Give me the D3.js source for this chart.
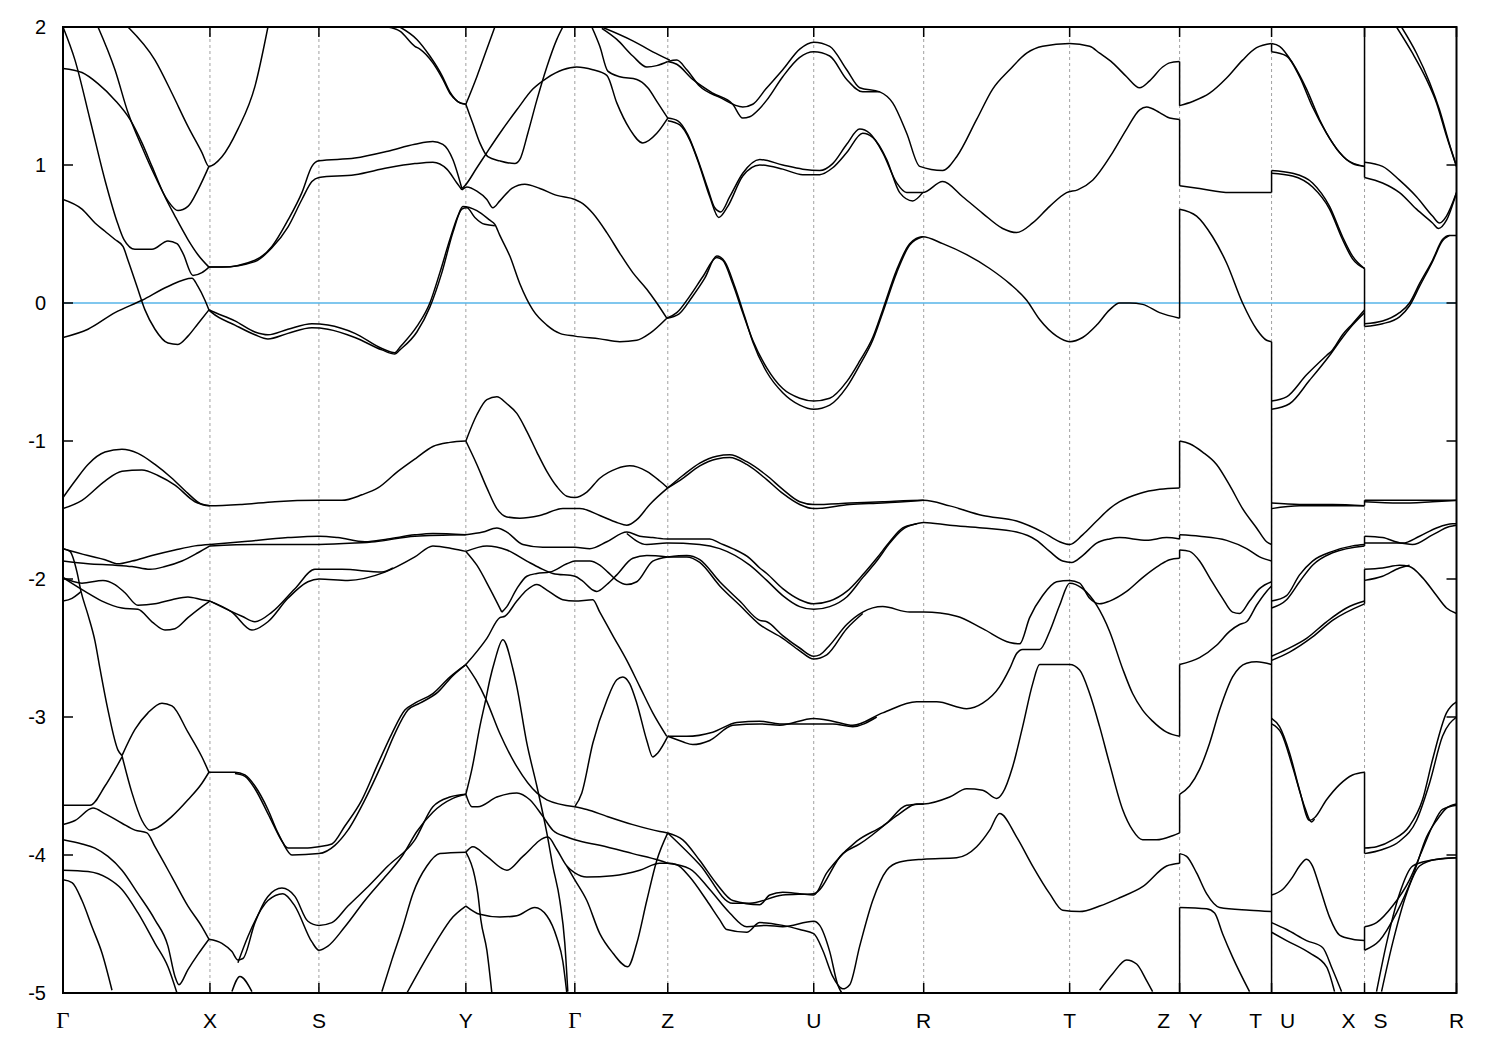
<!DOCTYPE html>
<html><head><meta charset="utf-8">
<script src="https://cdn.jsdelivr.net/npm/d3@7/dist/d3.min.js"></script>
<style>body{margin:0;background:#fff}svg{display:block}</style>
</head><body><svg id="c" width="1500" height="1050"></svg>
<script>
// high-symmetry points (path coordinate) and labels
const kPoints = [0, 1.47, 2.56, 4.03, 5.12, 6.05, 7.51, 8.61, 10.07, 11.17, 12.09, 13.02, 13.94];
const kLabels = ["Γ","X","S","Y","Γ","Z","U","R","T","Z|Y","T|U","X|S","R"];
const yTicks = [2, 1, 0, -1, -2, -3, -4, -5];
const fermiLevel = 0;

// Γ - X - S - Y
const bandsGXSY = [
 [[0,2.0],[0.12,1.76],[0.27,1.33],[0.42,0.89],[0.55,0.57],[0.61,0.46],[0.72,0.39],[0.89,0.39],[1.05,0.45],[1.14,0.43],[1.20,0.36],[1.30,0.20],[1.39,0.22],[1.46,0.26]],
 [[0,0.75],[0.19,0.68],[0.32,0.58],[0.42,0.52],[0.52,0.46],[0.60,0.41],[0.65,0.31],[0.74,0.12],[0.82,-0.05],[0.92,-0.19],[1.05,-0.29],[1.15,-0.30],[1.25,-0.24],[1.35,-0.15],[1.46,-0.05]],
 [[0,-0.25],[0.25,-0.19],[0.52,-0.07],[0.79,0.02],[1.05,0.12],[1.29,0.18],[1.35,0.12],[1.42,0.02],[1.46,-0.05]],
 [[0,1.70],[0.19,1.67],[0.35,1.59],[0.52,1.47],[0.67,1.33],[0.79,1.16],[0.89,0.99],[1.02,0.77],[1.12,0.63],[1.25,0.46],[1.35,0.35],[1.46,0.26]],
 [[0.35,2.0],[0.52,1.69],[0.65,1.38],[0.79,1.13],[0.92,0.92],[1.05,0.74],[1.15,0.67],[1.25,0.70],[1.35,0.82],[1.46,0.99]],
 [[0.65,2.0],[0.92,1.76],[1.09,1.52],[1.25,1.28],[1.39,1.09],[1.46,0.99],[1.59,1.06],[1.75,1.26],[1.92,1.57],[2.05,2.0]],
 [[1.46,0.26],[1.59,0.26],[1.92,0.31],[2.09,0.41],[2.25,0.60],[2.39,0.80],[2.49,0.99],[2.56,1.03],[2.92,1.05],[3.25,1.10],[3.52,1.15],[3.70,1.17],[3.80,1.15],[3.90,1.04],[3.99,0.83]],
 [[1.46,0.26],[1.59,0.26],[1.92,0.30],[2.09,0.40],[2.25,0.55],[2.39,0.75],[2.49,0.88],[2.56,0.91],[2.92,0.93],[3.25,0.98],[3.52,1.01],[3.70,1.02],[3.84,0.97],[3.94,0.87],[3.99,0.82]],
 [[3.25,2.0],[3.37,1.97],[3.52,1.86],[3.57,1.84],[3.70,1.74],[3.80,1.62],[3.87,1.52],[3.95,1.46],[4.03,1.44]],
 [[3.37,2.0],[3.54,1.91],[3.67,1.79],[3.79,1.65],[3.87,1.53],[3.97,1.45],[4.03,1.44]],
 [[1.46,-0.05],[1.49,-0.06],[1.72,-0.13],[1.92,-0.21],[2.05,-0.23],[2.25,-0.19],[2.49,-0.15],[2.65,-0.16],[2.92,-0.22],[3.19,-0.33],[3.32,-0.36],[3.37,-0.32],[3.54,-0.17],[3.67,0.0],[3.77,0.22],[3.87,0.46],[3.95,0.63],[4.00,0.70],[4.14,0.67],[4.27,0.60],[4.32,0.57],[4.37,0.49],[4.47,0.34],[4.57,0.14],[4.70,-0.05],[4.84,-0.16],[4.97,-0.22],[5.12,-0.24],[5.37,-0.26],[5.57,-0.28],[5.74,-0.27],[5.87,-0.22],[6.04,-0.11]],
 [[1.46,-0.05],[1.49,-0.07],[1.72,-0.16],[1.92,-0.23],[2.05,-0.26],[2.25,-0.22],[2.49,-0.18],[2.65,-0.19],[2.92,-0.25],[3.19,-0.34],[3.32,-0.37],[3.37,-0.34],[3.54,-0.21],[3.67,-0.03],[3.79,0.22],[3.90,0.51],[3.99,0.68],[4.04,0.69],[4.12,0.62],[4.22,0.57],[4.32,0.56]],
 [[0,-1.41],[0.12,-1.29],[0.25,-1.17],[0.42,-1.08],[0.59,-1.06],[0.75,-1.09],[0.92,-1.17],[1.09,-1.27],[1.25,-1.38],[1.39,-1.46],[1.47,-1.47],[1.79,-1.46],[2.12,-1.44],[2.56,-1.43],[2.79,-1.43],[2.99,-1.39],[3.15,-1.34],[3.35,-1.22],[3.54,-1.12],[3.70,-1.04],[3.87,-1.01],[4.03,-1.0]],
 [[0,-1.49],[0.19,-1.43],[0.42,-1.29],[0.59,-1.22],[0.79,-1.21],[0.95,-1.25],[1.12,-1.32],[1.32,-1.44],[1.47,-1.47]],
 [[0,-1.78],[0.25,-1.83],[0.42,-1.86],[0.55,-1.89],[0.69,-1.87],[0.89,-1.83],[1.12,-1.79],[1.32,-1.76],[1.47,-1.75]],
 [[0,-1.87],[0.25,-1.89],[0.52,-1.90],[0.69,-1.91],[0.87,-1.93],[1.02,-1.91],[1.19,-1.87],[1.35,-1.81],[1.47,-1.76]],
 [[1.47,-1.75],[1.79,-1.73],[2.25,-1.70],[2.56,-1.69],[2.75,-1.70],[3.02,-1.73],[3.25,-1.71],[3.52,-1.68],[3.70,-1.67],[4.03,-1.68]],
 [[1.47,-1.76],[1.92,-1.75],[2.56,-1.75],[2.92,-1.74],[3.12,-1.73],[3.52,-1.69],[4.03,-1.68]],
 [[1.47,-2.16],[1.69,-2.24],[1.89,-2.37],[2.05,-2.31],[2.25,-2.14],[2.45,-2.02],[2.56,-2.0],[2.85,-2.01],[3.22,-1.95],[3.52,-1.84],[3.70,-1.76],[3.90,-1.78],[4.03,-1.80]],
 [[1.47,-2.16],[1.79,-2.27],[1.92,-2.31],[2.09,-2.24],[2.32,-2.07],[2.52,-1.93],[2.79,-1.93],[3.19,-1.95],[3.30,-1.92]],
 [[0,-1.99],[0.19,-2.03],[0.40,-2.01],[0.52,-2.04],[0.62,-2.10],[0.75,-2.19],[0.92,-2.18],[1.09,-2.15],[1.25,-2.13],[1.39,-2.15],[1.47,-2.16]],
 [[0,-1.99],[0.22,-2.09],[0.39,-2.16],[0.59,-2.21],[0.75,-2.22],[0.89,-2.31],[1.02,-2.37],[1.12,-2.36],[1.25,-2.28],[1.39,-2.20],[1.47,-2.16]],
 [[0,-1.78],[0.07,-1.80],[0.14,-1.95],[0.18,-2.09],[0.25,-2.26],[0.32,-2.45],[0.37,-2.65],[0.45,-2.95],[0.55,-3.24],[0.59,-3.28]],
 [[0,-2.16],[0.09,-2.14],[0.15,-2.11],[0.18,-2.09]],
 [[0.59,-3.28],[0.72,-3.09],[0.85,-2.97],[0.99,-2.90],[1.09,-2.92],[1.25,-3.11],[1.39,-3.29],[1.46,-3.40]],
 [[0,-3.64],[0.27,-3.64],[0.42,-3.50],[0.52,-3.38],[0.59,-3.29]],
 [[0.59,-3.28],[0.69,-3.55],[0.79,-3.75],[0.87,-3.82],[0.92,-3.81],[1.09,-3.72],[1.25,-3.60],[1.39,-3.48],[1.46,-3.40]],
 [[0,-3.78],[0.12,-3.75],[0.30,-3.66],[0.42,-3.70],[0.59,-3.77],[0.72,-3.82],[0.84,-3.84],[0.92,-3.94],[1.09,-4.16],[1.25,-4.37],[1.39,-4.52],[1.46,-4.61]],
 [[0,-3.89],[0.19,-3.92],[0.32,-3.95],[0.45,-4.01],[0.59,-4.11],[0.75,-4.28],[0.92,-4.47],[1.05,-4.66],[1.12,-4.88],[1.16,-4.94],[1.25,-4.83],[1.35,-4.72],[1.46,-4.61]],
 [[0,-4.11],[0.25,-4.12],[0.45,-4.17],[0.59,-4.25],[0.75,-4.42],[0.92,-4.64],[1.05,-4.81],[1.14,-5.0]],
 [[0,-4.18],[0.09,-4.20],[0.19,-4.33],[0.29,-4.52],[0.39,-4.71],[0.49,-4.98]],
 [[1.46,-3.40],[1.72,-3.40],[1.82,-3.42],[1.92,-3.50],[2.05,-3.67],[2.15,-3.84],[2.25,-3.95],[2.42,-3.95],[2.56,-3.94],[2.69,-3.92],[2.82,-3.79],[2.99,-3.60],[3.15,-3.34],[3.29,-3.12],[3.42,-2.95],[3.52,-2.90],[3.70,-2.83],[3.87,-2.71],[4.03,-2.62]],
 [[1.72,-3.41],[1.82,-3.43],[1.92,-3.52],[2.05,-3.70],[2.19,-3.90],[2.29,-4.0],[2.56,-3.99],[2.72,-3.93],[2.85,-3.82],[3.02,-3.60],[3.19,-3.34],[3.32,-3.12],[3.45,-2.95],[3.57,-2.90],[3.75,-2.82],[3.90,-2.70],[4.03,-2.62]],
 [[1.46,-4.61],[1.59,-4.64],[1.69,-4.70],[1.75,-4.76],[1.80,-4.75],[1.92,-4.49],[2.05,-4.30],[2.19,-4.24],[2.32,-4.30],[2.45,-4.48],[2.56,-4.51],[2.69,-4.49],[2.85,-4.37],[3.05,-4.23],[3.25,-4.08],[3.52,-3.89],[3.70,-3.65],[3.87,-3.58],[4.03,-3.56]],
 [[1.75,-4.78],[1.85,-4.59],[2.05,-4.33],[2.20,-4.28],[2.32,-4.37],[2.49,-4.63],[2.56,-4.69],[2.65,-4.66],[2.82,-4.52],[3.02,-4.33],[3.22,-4.16],[3.40,-4.0],[3.54,-3.83],[3.70,-3.69],[3.90,-3.59],[4.03,-3.56]],
 [[1.69,-4.99],[1.77,-4.88],[1.89,-4.99]],
 [[3.19,-4.99],[3.29,-4.76],[3.40,-4.52],[3.50,-4.28],[3.64,-4.08],[3.77,-3.99],[4.03,-3.98]],
 [[3.44,-5.0],[3.57,-4.83],[3.74,-4.62],[3.90,-4.45],[4.03,-4.37]]
];

// Y - Γ - Z
const bandsYGZ = [
 [[3.99,0.83],[4.02,0.85],[4.14,0.98],[4.24,1.09],[4.37,1.23],[4.54,1.40],[4.70,1.55],[4.84,1.63],[5.00,1.69],[5.14,1.71],[5.30,1.69],[5.44,1.65],[5.54,1.45],[5.67,1.26],[5.80,1.16],[5.94,1.23],[6.05,1.34]],
 [[3.99,0.82],[4.04,0.84],[4.14,0.81],[4.24,0.75],[4.30,0.69],[4.37,0.74],[4.49,0.83],[4.62,0.86],[4.77,0.83],[4.94,0.78],[5.12,0.75],[5.20,0.72],[5.30,0.65],[5.44,0.51],[5.57,0.36],[5.70,0.22],[5.84,0.10],[5.94,0.0],[6.04,-0.11]],
 [[4.03,1.44],[4.14,1.64],[4.24,1.84],[4.32,2.0]],
 [[4.03,1.44],[4.10,1.30],[4.17,1.16],[4.25,1.06],[4.37,1.03],[4.52,1.01],[4.57,1.04],[4.65,1.23],[4.74,1.47],[4.84,1.71],[4.94,1.91],[5.00,2.0]],
 [[5.29,2.0],[5.37,1.86],[5.45,1.68],[5.57,1.64],[5.74,1.62],[5.85,1.56],[5.95,1.45],[6.05,1.34]],
 [[5.39,1.99],[5.54,1.91],[5.70,1.79],[5.84,1.71],[5.94,1.72],[6.05,1.75]],
 [[5.39,2.0],[5.70,1.90],[5.90,1.82],[6.07,1.76]],
 [[4.03,-1.0],[4.14,-0.81],[4.24,-0.70],[4.34,-0.68],[4.44,-0.73],[4.54,-0.80],[4.64,-0.93],[4.74,-1.08],[4.84,-1.22],[4.94,-1.33],[5.04,-1.40],[5.12,-1.41],[5.24,-1.37],[5.37,-1.27],[5.54,-1.20],[5.67,-1.18],[5.84,-1.22],[5.97,-1.29],[6.05,-1.34]],
 [[4.03,-1.0],[4.14,-1.17],[4.24,-1.34],[4.34,-1.49],[4.44,-1.55],[4.57,-1.56],[4.77,-1.54],[5.00,-1.49],[5.17,-1.49],[5.37,-1.54],[5.54,-1.59],[5.64,-1.61],[5.74,-1.57],[5.87,-1.46],[6.05,-1.34]],
 [[4.03,-1.80],[4.14,-1.90],[4.27,-2.07],[4.39,-2.24]],
 [[4.39,-2.24],[4.44,-2.20],[4.54,-2.07],[4.64,-1.98],[4.74,-1.96],[4.87,-1.95],[5.04,-1.89],[5.12,-1.87],[5.27,-1.87],[5.37,-1.90],[5.45,-1.95],[5.54,-2.01],[5.64,-2.04],[5.74,-2.02],[5.90,-1.87],[6.05,-1.84]],
 [[4.03,-1.80],[4.24,-1.76],[4.44,-1.79],[4.64,-1.87],[4.77,-1.92],[4.90,-1.96],[5.12,-1.98],[5.19,-2.01],[5.30,-2.08],[5.34,-2.09],[5.44,-2.04],[5.54,-1.97],[5.70,-1.85],[5.84,-1.83],[6.05,-1.84]],
 [[4.03,-2.62],[4.24,-2.43],[4.37,-2.28],[4.42,-2.27],[4.54,-2.16],[4.64,-2.08],[4.74,-2.04],[4.84,-2.08],[5.00,-2.15],[5.12,-2.16],[5.30,-2.15],[5.37,-2.24],[5.50,-2.41],[5.64,-2.59],[5.77,-2.78],[5.90,-2.97],[6.04,-3.14]],
 [[4.03,-3.56],[4.09,-3.38],[4.17,-3.07],[4.23,-2.87],[4.27,-2.73],[4.32,-2.59],[4.40,-2.44],[4.50,-2.65],[4.54,-2.78],[4.64,-3.19],[4.74,-3.50],[4.84,-3.84],[4.90,-4.08],[4.97,-4.33],[5.02,-4.64],[5.05,-4.99]],
 [[4.03,-2.62],[4.13,-2.73],[4.23,-2.87],[4.37,-3.12],[4.54,-3.36],[4.74,-3.55],[4.84,-3.60],[5.12,-3.65]],
 [[5.12,-3.65],[5.19,-3.55],[5.30,-3.19],[5.44,-2.88],[5.54,-2.73],[5.60,-2.71],[5.67,-2.76],[5.74,-2.90],[5.84,-3.17],[5.90,-3.29],[5.95,-3.26],[6.05,-3.14]],
 [[4.03,-3.56],[4.09,-3.65],[4.15,-3.65],[4.34,-3.58],[4.54,-3.55],[4.67,-3.60],[4.80,-3.72],[4.90,-3.82],[5.04,-3.87],[5.12,-3.89],[5.37,-3.93],[5.70,-3.99],[5.97,-4.04],[6.05,-4.06]],
 [[5.12,-3.65],[5.24,-3.67],[5.44,-3.72],[5.70,-3.78],[5.97,-3.83],[6.05,-3.84]],
 [[5.04,-4.08],[5.12,-4.18],[5.24,-4.33],[5.37,-4.57],[5.50,-4.71],[5.65,-4.81],[5.74,-4.64],[5.84,-4.33],[5.94,-4.04],[6.05,-3.84]],
 [[4.03,-3.98],[4.12,-4.16],[4.15,-4.28],[4.18,-4.47],[4.24,-4.69],[4.29,-5.0]],
 [[4.03,-4.37],[4.17,-4.43],[4.37,-4.45],[4.54,-4.44],[4.72,-4.38],[4.84,-4.44],[4.94,-4.60],[5.00,-4.77],[5.04,-5.0]]
];

// Z - U - R - T - Z
const bandsZURTZ = [
 [[6.05,1.75],[6.14,1.76],[6.24,1.69],[6.37,1.57],[6.57,1.49],[6.80,1.42],[6.90,1.44],[7.03,1.55],[7.20,1.69],[7.37,1.84],[7.51,1.89],[7.67,1.86],[7.84,1.69],[7.97,1.56],[8.17,1.53],[8.30,1.45],[8.44,1.23],[8.57,0.99],[8.80,0.96],[8.94,1.06],[9.14,1.33],[9.30,1.55],[9.47,1.69],[9.64,1.81],[9.80,1.86],[10.07,1.88],[10.27,1.86],[10.37,1.81],[10.50,1.74],[10.64,1.64],[10.77,1.56],[10.87,1.61],[11.00,1.71],[11.07,1.74],[11.17,1.75]],
 [[6.05,1.75],[6.14,1.73],[6.30,1.62],[6.50,1.52],[6.70,1.44],[6.80,1.34],[6.87,1.35],[6.97,1.41],[7.04,1.47],[7.20,1.64],[7.37,1.78],[7.51,1.82],[7.67,1.79],[7.84,1.62],[8.00,1.53],[8.17,1.53]],
 [[6.05,1.34],[6.15,1.32],[6.25,1.22],[6.35,1.04],[6.45,0.83],[6.52,0.69],[6.58,0.66],[6.67,0.77],[6.80,0.94],[6.97,1.04],[7.20,1.00],[7.40,0.97],[7.57,0.96],[7.70,1.01],[7.84,1.15],[7.97,1.26],[8.07,1.23],[8.20,1.09],[8.34,0.87],[8.44,0.80],[8.60,0.80],[8.80,0.88],[9.00,0.77],[9.20,0.65],[9.40,0.54],[9.54,0.51],[9.70,0.58],[9.87,0.70],[10.04,0.80],[10.15,0.82],[10.30,0.89],[10.50,1.09],[10.64,1.26],[10.77,1.40],[10.84,1.42],[10.97,1.38],[11.07,1.34],[11.17,1.33]],
 [[6.05,1.32],[6.17,1.29],[6.27,1.18],[6.37,0.99],[6.47,0.77],[6.56,0.62],[6.65,0.70],[6.80,0.92],[6.97,1.0],[7.20,0.97],[7.40,0.93],[7.57,0.93],[7.70,0.98],[7.84,1.09],[8.00,1.23],[8.10,1.20],[8.24,1.04],[8.37,0.80],[8.50,0.74],[8.60,0.80]],
 [[6.04,-0.11],[6.14,-0.07],[6.27,0.05],[6.40,0.19],[6.54,0.33],[6.60,0.31],[6.70,0.14],[6.80,-0.07],[6.90,-0.27],[7.04,-0.47],[7.20,-0.62],[7.37,-0.69],[7.51,-0.71],[7.67,-0.69],[7.84,-0.57],[7.97,-0.42],[8.10,-0.25],[8.20,-0.05],[8.34,0.24],[8.47,0.43],[8.60,0.48],[8.80,0.43],[9.04,0.35],[9.27,0.25],[9.47,0.14],[9.64,0.02],[9.77,-0.12],[9.94,-0.24],[10.07,-0.28],[10.20,-0.25],[10.34,-0.16],[10.47,-0.05],[10.57,0.0],[10.67,0.0],[10.80,-0.01],[10.97,-0.07],[11.17,-0.11]],
 [[6.04,-0.11],[6.16,-0.08],[6.29,0.04],[6.42,0.18],[6.54,0.34],[6.62,0.30],[6.72,0.12],[6.82,-0.10],[6.90,-0.28],[7.04,-0.50],[7.20,-0.65],[7.37,-0.74],[7.51,-0.77],[7.67,-0.74],[7.84,-0.61],[7.97,-0.45],[8.10,-0.27],[8.20,-0.07],[8.34,0.22],[8.47,0.42],[8.60,0.48]],
 [[6.05,-1.34],[6.20,-1.25],[6.37,-1.16],[6.54,-1.11],[6.67,-1.10],[6.84,-1.15],[7.04,-1.25],[7.20,-1.35],[7.37,-1.44],[7.51,-1.46],[7.87,-1.45],[8.20,-1.44],[8.61,-1.43],[8.87,-1.47],[9.20,-1.54],[9.54,-1.58],[9.80,-1.66],[9.97,-1.73],[10.07,-1.75],[10.20,-1.68],[10.34,-1.58],[10.47,-1.49],[10.57,-1.44],[10.77,-1.38],[10.97,-1.35],[11.17,-1.34]],
 [[6.05,-1.34],[6.20,-1.27],[6.37,-1.18],[6.54,-1.13],[6.67,-1.12],[6.84,-1.17],[7.04,-1.28],[7.20,-1.38],[7.37,-1.46],[7.51,-1.49],[7.87,-1.46],[8.20,-1.45],[8.61,-1.43]],
 [[4.03,-1.68],[4.20,-1.66],[4.34,-1.63],[4.44,-1.66],[4.60,-1.75],[4.80,-1.77],[5.12,-1.77],[5.27,-1.78],[5.44,-1.73],[5.64,-1.66],[5.77,-1.69],[5.90,-1.70],[6.05,-1.71],[6.24,-1.71],[6.47,-1.71],[6.57,-1.74],[6.70,-1.78],[6.87,-1.85],[6.97,-1.92],[7.04,-1.96],[7.20,-2.07],[7.37,-2.15],[7.51,-2.18],[7.67,-2.16],[7.84,-2.09],[8.00,-1.97],[8.14,-1.85],[8.27,-1.73],[8.40,-1.63],[8.54,-1.60],[8.61,-1.59],[8.87,-1.61],[9.20,-1.63],[9.54,-1.66],[9.74,-1.72],[9.87,-1.80],[10.00,-1.87],[10.09,-1.88],[10.20,-1.83],[10.34,-1.74],[10.47,-1.71],[10.57,-1.70],[10.84,-1.72],[11.04,-1.70],[11.17,-1.71]],
 [[5.64,-1.67],[5.84,-1.75],[6.04,-1.74],[6.37,-1.75],[6.57,-1.78],[6.87,-1.90],[7.04,-2.01],[7.20,-2.12],[7.37,-2.20],[7.51,-2.22],[7.67,-2.20],[7.84,-2.13],[8.00,-1.99],[8.14,-1.87],[8.27,-1.74],[8.40,-1.64],[8.54,-1.60]],
 [[6.05,-1.84],[6.24,-1.83],[6.37,-1.86],[6.57,-2.02],[6.77,-2.16],[6.97,-2.30],[7.04,-2.31],[7.20,-2.41],[7.37,-2.50],[7.51,-2.56],[7.57,-2.55],[7.67,-2.48],[7.84,-2.33],[8.00,-2.24],[8.20,-2.20],[8.47,-2.24],[8.61,-2.24],[8.94,-2.27],[9.20,-2.36],[9.47,-2.46],[9.57,-2.47],[9.67,-2.28],[9.80,-2.12],[9.94,-2.02],[10.07,-2.01],[10.17,-2.03],[10.27,-2.14],[10.37,-2.18],[10.47,-2.16],[10.64,-2.09],[10.80,-1.99],[10.97,-1.90],[11.07,-1.86],[11.17,-1.85]],
 [[6.05,-1.84],[6.24,-1.84],[6.37,-1.88],[6.57,-2.05],[6.77,-2.19],[6.97,-2.33],[7.20,-2.43],[7.37,-2.52],[7.51,-2.58],[7.64,-2.55],[7.84,-2.36],[8.00,-2.25]],
 [[6.05,-3.14],[6.20,-3.18],[6.30,-3.20],[6.47,-3.17],[6.70,-3.06],[6.97,-3.05],[7.17,-3.06],[7.51,-3.01],[7.70,-3.03],[7.90,-3.06],[8.20,-2.97],[8.54,-2.89],[8.74,-2.89],[9.04,-2.94],[9.20,-2.90],[9.37,-2.78],[9.47,-2.65],[9.54,-2.54],[9.60,-2.51],[9.77,-2.51],[9.87,-2.38],[9.97,-2.19],[10.07,-2.03],[10.20,-2.07],[10.34,-2.19],[10.47,-2.38],[10.60,-2.65],[10.70,-2.83],[10.80,-2.95],[10.90,-3.03],[11.04,-3.11],[11.17,-3.14]],
 [[6.05,-3.14],[6.24,-3.14],[6.50,-3.11],[6.74,-3.04],[6.97,-3.03],[7.17,-3.05],[7.51,-3.05],[7.70,-3.05],[7.90,-3.07],[8.14,-3.0]],
 [[4.03,-3.98],[4.10,-3.94],[4.24,-4.01],[4.44,-4.11],[4.60,-4.01],[4.85,-3.87],[4.94,-3.96],[5.04,-4.08],[5.12,-4.13],[5.24,-4.16],[5.50,-4.15],[5.77,-4.11],[5.97,-4.06],[6.05,-4.06],[6.14,-4.07],[6.27,-4.16],[6.44,-4.33],[6.57,-4.47],[6.64,-4.54],[6.84,-4.56],[6.97,-4.49],[7.20,-4.51],[7.37,-4.54],[7.51,-4.57],[7.60,-4.69],[7.70,-4.88],[7.80,-4.97],[7.87,-4.94],[7.97,-4.66],[8.10,-4.33],[8.24,-4.11],[8.37,-4.05],[8.61,-4.03],[8.94,-4.02],[9.14,-3.94],[9.27,-3.82],[9.37,-3.70],[9.54,-3.87],[9.70,-4.08],[9.87,-4.28],[10.00,-4.40],[10.17,-4.41],[10.37,-4.37],[10.57,-4.31],[10.80,-4.23],[11.04,-4.08],[11.17,-4.06]],
 [[6.05,-4.06],[6.27,-4.10],[6.47,-4.25],[6.67,-4.42],[6.84,-4.52],[7.04,-4.51],[7.20,-4.52],[7.51,-4.48],[7.57,-4.51],[7.67,-4.70],[7.75,-4.94],[7.79,-5.0]],
 [[6.05,-3.84],[6.20,-3.89],[6.37,-4.04],[6.54,-4.21],[6.70,-4.33],[6.97,-4.36],[7.07,-4.29],[7.20,-4.27],[7.37,-4.28],[7.51,-4.29],[7.64,-4.13],[7.74,-4.04],[7.94,-3.90],[8.20,-3.79],[8.37,-3.70],[8.54,-3.63],[8.61,-3.63],[8.87,-3.58],[9.04,-3.52],[9.20,-3.53],[9.34,-3.59],[9.40,-3.55],[9.50,-3.36],[9.60,-3.07],[9.70,-2.76],[9.77,-2.62],[10.07,-2.62],[10.17,-2.66],[10.27,-2.83],[10.37,-3.07],[10.47,-3.34],[10.60,-3.67],[10.70,-3.82],[10.80,-3.89],[10.94,-3.89],[11.10,-3.86],[11.17,-3.84]],
 [[6.05,-3.84],[6.37,-4.07],[6.70,-4.35],[6.87,-4.35],[7.20,-4.29],[7.51,-4.28],[7.80,-3.99],[7.97,-3.92],[8.24,-3.77],[8.44,-3.64],[8.61,-3.63]],
 [[10.37,-4.98],[10.50,-4.86],[10.64,-4.76],[10.74,-4.79],[10.84,-4.91],[10.90,-4.99]]
];

// Y - T | U - X | S - R
const bandsYTUXSR = [
 [[11.17,1.43],[11.30,1.46],[11.47,1.52],[11.64,1.63],[11.80,1.76],[11.94,1.85],[12.09,1.88]],
 [[11.17,0.85],[11.37,0.83],[11.67,0.80],[12.09,0.80]],
 [[11.17,0.68],[11.34,0.63],[11.50,0.48],[11.64,0.29],[11.80,0.0],[11.94,-0.19],[12.04,-0.27],[12.09,-0.28]],
 [[12.09,1.88],[12.17,1.86],[12.30,1.74],[12.44,1.55],[12.57,1.33],[12.70,1.16],[12.84,1.04],[13.02,0.99]],
 [[12.09,1.82],[12.24,1.79],[12.37,1.64],[12.50,1.42],[12.64,1.23],[12.77,1.09],[12.90,1.01],[13.02,0.99]],
 [[12.09,0.96],[12.30,0.94],[12.50,0.87],[12.67,0.70],[12.80,0.48],[12.90,0.34],[13.02,0.25]],
 [[12.09,0.94],[12.30,0.92],[12.50,0.84],[12.67,0.68],[12.80,0.46],[12.90,0.32],[13.02,0.25]],
 [[12.09,-0.71],[12.24,-0.68],[12.44,-0.52],[12.64,-0.38],[12.70,-0.34],[12.80,-0.23],[12.90,-0.15],[13.02,-0.05]],
 [[12.09,-0.77],[12.27,-0.73],[12.47,-0.56],[12.67,-0.38],[12.80,-0.25],[12.90,-0.16],[13.02,-0.07]],
 [[13.02,1.02],[13.20,0.99],[13.37,0.89],[13.54,0.77],[13.70,0.63],[13.77,0.58],[13.84,0.63],[13.94,0.80]],
 [[13.02,0.91],[13.20,0.87],[13.37,0.80],[13.54,0.68],[13.70,0.58],[13.76,0.54],[13.84,0.60],[13.94,0.80]],
 [[13.34,2.0],[13.50,1.81],[13.64,1.62],[13.74,1.45],[13.84,1.21],[13.94,0.99]],
 [[13.39,2.0],[13.54,1.81],[13.67,1.60],[13.77,1.40],[13.87,1.15],[13.94,0.99]],
 [[13.02,-0.15],[13.20,-0.13],[13.37,-0.07],[13.47,0.0],[13.57,0.14],[13.70,0.31],[13.80,0.46],[13.87,0.49],[13.94,0.49]],
 [[13.02,-0.17],[13.20,-0.15],[13.37,-0.10],[13.47,-0.02],[13.57,0.12],[13.70,0.30],[13.80,0.45],[13.87,0.49]],
 [[11.17,-1.0],[11.27,-1.02],[11.40,-1.08],[11.54,-1.17],[11.67,-1.32],[11.80,-1.49],[11.94,-1.63],[12.04,-1.73],[12.09,-1.75]],
 [[12.09,-1.45],[12.37,-1.46],[12.70,-1.46],[13.02,-1.47]],
 [[12.09,-1.49],[12.37,-1.47],[13.02,-1.47]],
 [[13.02,-1.43],[13.37,-1.43],[13.70,-1.43],[13.94,-1.43]],
 [[13.02,-1.44],[13.37,-1.45],[13.70,-1.44],[13.94,-1.43]],
 [[11.17,-1.68],[11.37,-1.69],[11.64,-1.72],[11.84,-1.78],[11.97,-1.84],[12.09,-1.87]],
 [[11.17,-1.79],[11.27,-1.80],[11.37,-1.87],[11.47,-1.99],[11.60,-2.14],[11.70,-2.24],[11.77,-2.25],[11.87,-2.16],[11.97,-2.07],[12.09,-2.02]],
 [[11.17,-3.56],[11.27,-3.50],[11.37,-3.38],[11.47,-3.19],[11.57,-2.95],[11.70,-2.71],[11.84,-2.61],[11.94,-2.60],[12.09,-2.62]],
 [[11.17,-2.62],[11.37,-2.57],[11.54,-2.48],[11.67,-2.38],[11.77,-2.33],[11.84,-2.31],[11.94,-2.19],[12.04,-2.09],[12.09,-2.05]],
 [[11.17,-3.99],[11.24,-4.01],[11.34,-4.13],[11.44,-4.28],[11.57,-4.38],[11.87,-4.40],[12.09,-4.41]],
 [[11.17,-4.38],[11.44,-4.39],[11.52,-4.42],[11.60,-4.57],[11.70,-4.74],[11.87,-4.99]],
 [[12.09,-2.16],[12.24,-2.12],[12.37,-1.97],[12.50,-1.87],[12.70,-1.80],[12.90,-1.76],[13.02,-1.75]],
 [[12.09,-2.21],[12.24,-2.15],[12.37,-2.02],[12.50,-1.90],[12.70,-1.81],[13.02,-1.76]],
 [[12.09,-2.56],[12.24,-2.51],[12.44,-2.43],[12.64,-2.31],[12.84,-2.21],[13.02,-2.16]],
 [[12.09,-2.59],[12.27,-2.53],[12.50,-2.42],[12.70,-2.30],[13.02,-2.18]],
 [[12.09,-3.01],[12.17,-3.07],[12.27,-3.26],[12.37,-3.53],[12.47,-3.75],[12.52,-3.73],[12.64,-3.60],[12.77,-3.49],[12.90,-3.42],[13.02,-3.40]],
 [[12.09,-3.05],[12.19,-3.12],[12.30,-3.36],[12.42,-3.65],[12.49,-3.76],[12.52,-3.74]],
 [[12.09,-4.29],[12.20,-4.25],[12.30,-4.16],[12.37,-4.08],[12.44,-4.03],[12.50,-4.08],[12.57,-4.23],[12.67,-4.45],[12.77,-4.58],[12.90,-4.61],[13.02,-4.62]],
 [[12.09,-4.49],[12.24,-4.54],[12.44,-4.62],[12.60,-4.67],[12.70,-4.83],[12.79,-4.99]],
 [[12.09,-4.56],[12.24,-4.62],[12.47,-4.71],[12.64,-4.81],[12.72,-4.99]],
 [[13.02,-1.69],[13.20,-1.70],[13.40,-1.74],[13.57,-1.69],[13.74,-1.63],[13.90,-1.60],[13.94,-1.60]],
 [[13.02,-1.74],[13.37,-1.74],[13.50,-1.75],[13.70,-1.68],[13.87,-1.62],[13.94,-1.61]],
 [[13.02,-1.93],[13.20,-1.92],[13.37,-1.90],[13.47,-1.91],[13.60,-1.99],[13.74,-2.12],[13.84,-2.21],[13.94,-2.25]],
 [[13.02,-2.01],[13.20,-1.98],[13.37,-1.92],[13.47,-1.90]],
 [[13.02,-3.95],[13.14,-3.94],[13.30,-3.89],[13.47,-3.79],[13.60,-3.60],[13.70,-3.31],[13.84,-2.97],[13.94,-2.89]],
 [[13.02,-3.99],[13.20,-3.96],[13.37,-3.90],[13.54,-3.75],[13.67,-3.48],[13.80,-3.14],[13.94,-3.0]],
 [[13.02,-4.52],[13.14,-4.49],[13.30,-4.37],[13.47,-4.18],[13.60,-3.96],[13.70,-3.79],[13.80,-3.67],[13.94,-3.64]],
 [[13.02,-4.69],[13.17,-4.62],[13.34,-4.42],[13.50,-4.16],[13.64,-3.87],[13.74,-3.75],[13.84,-3.66],[13.94,-3.63]],
 [[13.14,-4.99],[13.24,-4.64],[13.37,-4.28],[13.50,-4.08],[13.67,-4.04],[13.94,-4.02]],
 [[13.19,-4.99],[13.30,-4.64],[13.44,-4.28],[13.57,-4.08],[13.74,-4.03],[13.94,-4.02]]
];

// energy jumps at the path discontinuities
const jumpsZY = [[1.75,1.43],[1.33,0.85],[0.68,-0.11],[-1.0,-1.34],[-1.68,-1.71],[-1.79,-1.85],[-2.62,-3.14],[-3.56,-3.84],[-3.99,-4.06],[-4.38,-5]];
const jumpsTU = [[1.88,1.82],[0.96,0.80],[-0.28,-5]];
const jumpsXS = [[2.0,0.91],[0.25,-0.17],[-1.43,-1.47],[-1.69,-1.76],[-1.93,-2.18],[-3.40,-3.99],[-4.52,-4.69]];

const W = 1500, H = 1050;
const M = {left: 63, right: 1456.5, top: 27, bottom: 993};
const svg = d3.select("#c");
svg.append("rect").attr("width", W).attr("height", H).attr("fill", "#fff");

const x = d3.scaleLinear().domain([0, kPoints[kPoints.length - 1]]).range([M.left, M.right]);
const y = d3.scaleLinear().domain([-5, 2]).range([M.bottom, M.top]);

svg.append("clipPath").attr("id", "clip").append("rect")
  .attr("x", M.left).attr("y", M.top).attr("width", M.right - M.left).attr("height", M.bottom - M.top);

// grid lines
svg.append("g").selectAll("line").data(kPoints.slice(1, -1)).join("line")
  .attr("x1", d => x(d)).attr("x2", d => x(d)).attr("y1", M.top).attr("y2", M.bottom)
  .attr("stroke", "#a0a0a0").attr("stroke-width", 1).attr("stroke-dasharray", "3,3");

// Fermi level
svg.append("line").attr("x1", M.left).attr("x2", M.right).attr("y1", y(fermiLevel)).attr("y2", y(fermiLevel))
  .attr("stroke", "#56B4E9").attr("stroke-width", 1.6);

const g = svg.append("g").attr("clip-path", "url(#clip)");
const allBands = [].concat(bandsGXSY, bandsYGZ, bandsZURTZ, bandsYTUXSR);
const mono = d3.line().x(d => x(d[0])).y(d => y(d[1])).curve(d3.curveMonotoneX);
const lin = d3.line().x(d => x(d[0])).y(d => y(d[1]));
g.selectAll("path.band").data(allBands).join("path").attr("class", "band")
  .attr("d", d => {
    let ok = true;
    for (let i = 1; i < d.length; i++) if (d[i][0] <= d[i-1][0]) ok = false;
    return ok ? mono(d) : lin(d);
  })
  .attr("fill", "none").attr("stroke", "#000").attr("stroke-width", 1.5).attr("stroke-linejoin", "round");

const jumpData = [].concat(
  jumpsZY.map(j => [kPoints[9], j[0], j[1]]),
  jumpsTU.map(j => [kPoints[10], j[0], j[1]]),
  jumpsXS.map(j => [kPoints[11], j[0], j[1]]));
g.selectAll("line.jump").data(jumpData).join("line").attr("class", "jump")
  .attr("x1", d => x(d[0])).attr("x2", d => x(d[0])).attr("y1", d => y(d[1])).attr("y2", d => y(d[2]))
  .attr("stroke", "#000").attr("stroke-width", 1.5);

// frame
svg.append("rect").attr("x", M.left).attr("y", M.top).attr("width", M.right - M.left).attr("height", M.bottom - M.top)
  .attr("fill", "none").attr("stroke", "#000").attr("stroke-width", 2);

// ticks
const tl = 10;
const tk = svg.append("g").attr("stroke", "#000").attr("stroke-width", 1.5);
yTicks.forEach(v => {
  tk.append("line").attr("x1", M.left).attr("x2", M.left + tl).attr("y1", y(v)).attr("y2", y(v));
  tk.append("line").attr("x1", M.right - tl).attr("x2", M.right).attr("y1", y(v)).attr("y2", y(v));
});
kPoints.forEach(k => {
  tk.append("line").attr("x1", x(k)).attr("x2", x(k)).attr("y1", M.bottom).attr("y2", M.bottom - tl);
  tk.append("line").attr("x1", x(k)).attr("x2", x(k)).attr("y1", M.top).attr("y2", M.top + tl);
});

// y labels
svg.append("g").selectAll("text").data(yTicks).join("text")
  .attr("x", 46).attr("y", d => y(d)).attr("dy", "0.35em").attr("text-anchor", "end")
  .attr("font-family", "Liberation Sans, Arial, sans-serif").attr("font-size", 20).text(d => d);

// x labels
const xl = svg.append("g").attr("font-size", 21).attr("text-anchor", "middle");
kPoints.forEach((k, i) => {
  const parts = kLabels[i].split("|");
  const offs = parts.length === 2 ? [-16, 16] : [0];
  parts.forEach((p, j) => {
    xl.append("text").attr("x", x(k) + offs[j]).attr("y", 1028)
      .attr("font-family", p === "Γ" ? "Liberation Serif, DejaVu Serif, serif" : "Liberation Sans, Arial, sans-serif")
      .attr("font-size", p === "Γ" ? 23 : 21).text(p);
  });
});
</script></body></html>
